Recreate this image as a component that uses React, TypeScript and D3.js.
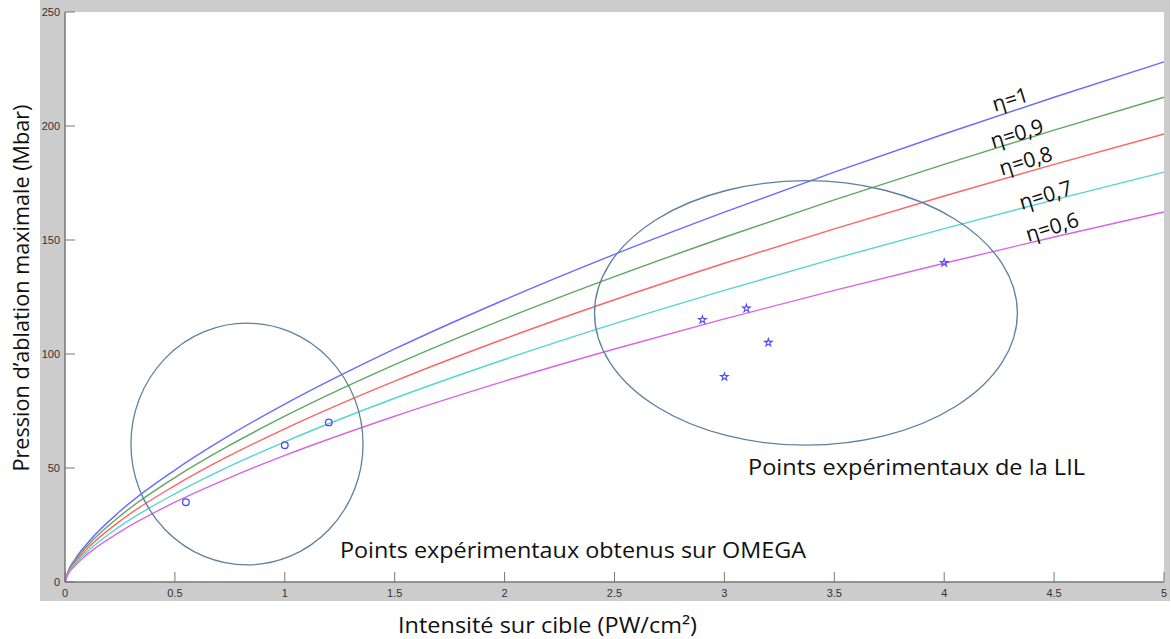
import React from "react";
import * as d3 from "d3";

const intensities = [0, 0.01, 0.05, 0.1, 0.25, 0.5, 0.75, 1, 1.5, 2, 2.5, 3, 3.5, 4, 4.5, 5];
const eta1 = [0, 3.6, 10.6, 16.8, 31.0, 49.1, 64.4, 78.0, 102.2, 123.8, 143.7, 162.2, 179.8, 196.5, 212.6, 228.1];
const eta09 = [0, 3.4, 9.9, 15.7, 28.9, 45.8, 60.0, 72.7, 95.3, 115.4, 133.9, 151.2, 167.6, 183.2, 198.2, 212.6];
const eta08 = [0, 3.1, 9.1, 14.5, 26.7, 42.3, 55.5, 67.2, 88.1, 106.7, 123.8, 139.8, 154.9, 169.3, 183.2, 196.5];
const eta07 = [0, 2.9, 8.3, 13.2, 24.4, 38.7, 50.8, 61.5, 80.6, 97.6, 113.3, 127.9, 141.8, 155.0, 167.6, 179.8];
const eta06 = [0, 2.6, 7.5, 12.0, 22.0, 35.0, 45.8, 55.5, 72.7, 88.1, 102.2, 115.4, 127.9, 139.8, 151.3, 162.3];

const seriesNames = ["η=1", "η=0,9", "η=0,8", "η=0,7", "η=0,6"];
const seriesValues = [eta1, eta09, eta08, eta07, eta06];
const seriesColors = ["#6b6bff", "#5fa85f", "#ff6464", "#55d4d4", "#d866e0"];
// label anchor positions (data coords) for the rotated eta labels
const labelI = [4.3, 4.33, 4.37, 4.46, 4.49];
const labelP = [212, 197, 185, 170, 156];

const omegaI = [0.55, 1.0, 1.2];
const omegaP = [35, 60, 70];
const lilI = [2.9, 3.0, 3.1, 3.2, 4.0];
const lilP = [115, 90, 120, 105, 140];

const xTicks = [0, 0.5, 1, 1.5, 2, 2.5, 3, 3.5, 4, 4.5, 5];
const yTicks = [0, 50, 100, 150, 200, 250];

// annotation ellipses: [centerI, centerP, radiusI, radiusP]
const ellipseOmega = [0.828, 60.5, 0.528, 53];
const ellipseLil = [3.371, 118, 0.962, 58];

export default function App() {
  React.useEffect(() => {
    document.body.style.margin = "0";
  }, []);
  const W = 1171;
  const H = 639;
  const x = d3.scaleLinear().domain([0, 5]).range([65, 1164]);
  const y = d3.scaleLinear().domain([0, 250]).range([582, 12]);
  const line = d3
    .line<number>()
    .x((_, i) => x(intensities[i]))
    .y((d) => y(d))
    .curve(d3.curveMonotoneX);
  const star = d3.symbol().type(d3.symbolStar).size(18)();
  const fmt = (v: number) => String(v);
  const tickFont = "Arial, 'Liberation Sans', sans-serif";
  const textFont = "'Open Sans', 'Noto Sans', sans-serif";
  const ell = (e: number[]) => ({
    cx: x(e[0]),
    cy: y(e[1]),
    rx: x(e[2]) - x(0),
    ry: y(0) - y(e[3]),
  });
  const eo = ell(ellipseOmega);
  const el = ell(ellipseLil);
  return (
    <svg width={W} height={H} style={{ position: "absolute", left: 0, top: 0, background: "#fff" }}>
      <rect x={40} y={0} width={1130} height={601} fill="#cccccc" />
      <rect x={65} y={12} width={1099} height={570} fill="#ffffff" />
      {/* curves */}
      {seriesValues.map((vals, k) => (
        <path key={k} d={line(vals) || ""} fill="none" stroke={seriesColors[k]} strokeWidth={1.4} />
      ))}
      {/* ellipses */}
      <ellipse cx={eo.cx} cy={eo.cy} rx={eo.rx} ry={eo.ry} fill="none" stroke="#5d80a0" strokeWidth={1.3} />
      <ellipse cx={el.cx} cy={el.cy} rx={el.rx} ry={el.ry} fill="none" stroke="#5d80a0" strokeWidth={1.3} />
      {/* markers */}
      {omegaI.map((v, i) => (
        <circle key={"o" + i} cx={x(v)} cy={y(omegaP[i])} r={3.3} fill="none" stroke="#4a4aff" strokeWidth={1.3} />
      ))}
      {lilI.map((v, i) => (
        <path key={"s" + i} d={star || ""} transform={`translate(${x(v)},${y(lilP[i])})`} fill="none" stroke="#4a4aff" strokeWidth={1.1} />
      ))}
      {/* axes */}
      <line x1={65} x2={65} y1={12} y2={582} stroke="#777" strokeWidth={1.5} />
      <line x1={65} x2={1164} y1={582} y2={582} stroke="#777" strokeWidth={1.5} />
      {xTicks.map((t) => (
        <g key={"xt" + t}>
          <line x1={x(t)} x2={x(t)} y1={582} y2={572} stroke="#777" strokeWidth={1} />
          <text x={x(t)} y={597} textAnchor="middle" fontFamily={tickFont} fontSize={11} fill="#333">
            {fmt(t)}
          </text>
        </g>
      ))}
      {yTicks.map((t) => (
        <g key={"yt" + t}>
          <line x1={65} x2={75} y1={y(t)} y2={y(t)} stroke="#777" strokeWidth={1} />
          <text x={60} y={y(t) + 4} textAnchor="end" fontFamily={tickFont} fontSize={11} fill="#333">
            {fmt(t)}
          </text>
        </g>
      ))}
      {/* eta labels */}
      {seriesNames.map((n, k) => (
        <text
          key={"l" + k}
          x={x(labelI[k])}
          y={y(labelP[k])}
          transform={`rotate(-17 ${x(labelI[k])} ${y(labelP[k])})`}
          textAnchor="middle"
          dominantBaseline="central"
          fontFamily={textFont}
          fontSize={21}
          fill="#111"
        >
          {n}
        </text>
      ))}
      {/* annotation texts */}
      <text x={340} y={558} fontFamily={textFont} fontSize={21} fill="#111" textLength={466} lengthAdjust="spacingAndGlyphs">
        Points expérimentaux obtenus sur OMEGA
      </text>
      <text x={748} y={475} fontFamily={textFont} fontSize={21} fill="#111" textLength={337} lengthAdjust="spacingAndGlyphs">
        Points expérimentaux de la LIL
      </text>
      <text x={398} y={633} fontFamily={textFont} fontSize={21} fill="#111" textLength={299} lengthAdjust="spacingAndGlyphs">
        Intensité sur cible (PW/cm²)
      </text>
      <text
        x={0}
        y={0}
        transform={`translate(29,288) rotate(-90)`}
        textAnchor="middle"
        fontFamily={textFont}
        fontSize={21}
        fill="#111"
        textLength={367}
        lengthAdjust="spacingAndGlyphs"
      >
        Pression d’ablation maximale (Mbar)
      </text>
    </svg>
  );
}
